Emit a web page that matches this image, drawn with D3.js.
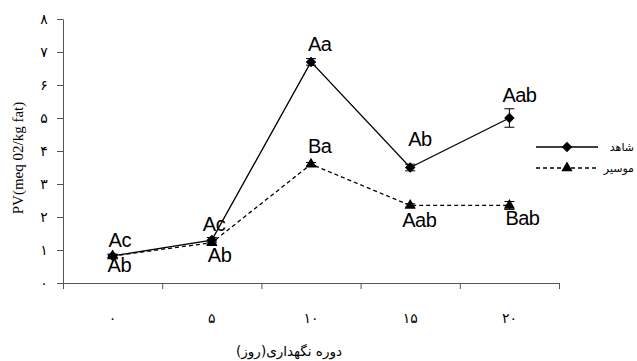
<!DOCTYPE html>
<html>
<head>
<meta charset="utf-8">
<script src="https://cdn.jsdelivr.net/npm/d3@7"></script>
<style>
  body { margin: 0; background: #fff; }
  svg { display: block; }
</style>
</head>
<body>
<div id="chart"></div>
<script>
"use strict";
// storage period (days)
const days = ["0", "5", "10", "15", "20"];
const dayLabels = ["۰", "۵", "۱۰", "۱۵", "۲۰"];
const yTickLabels = ["۰", "۱", "۲", "۳", "۴", "۵", "۶", "۷", "۸"];

// control (شاهد)
const controlValues = [0.82, 1.3, 6.7, 3.5, 5.0];
const controlErrors = [0.05, 0.08, 0.1, 0.1, 0.28];
const controlLetters = ["Ac", "Ac", "Aa", "Ab", "Aab"];

// shallot (موسیر)
const shallotValues = [0.82, 1.22, 3.6, 2.35, 2.35];
const shallotErrors = [0.05, 0.05, 0.05, 0.05, 0.12];
const shallotLetters = ["Ab", "Ab", "Ba", "Aab", "Bab"];

const seriesNames = ["شاهد", "موسیر"];

let width = 637, height = 361;
let margin = { top: 19, right: 78, bottom: 78, left: 63 };

let svg = d3.select("#chart").append("svg")
    .attr("width", width)
    .attr("height", height);

let x = d3.scaleBand()
    .domain(days)
    .range([margin.left, 559])
    .padding(0);

let y = d3.scaleLinear()
    .domain([0, 8])
    .range([283, margin.top]);

let cx = d => x(d) + x.bandwidth() / 2;

// Y axis
let yAxis = svg.append("g")
    .attr("transform", "translate(" + margin.left + ",0)")
    .call(d3.axisLeft(y).ticks(8).tickSizeOuter(0)
        .tickFormat((d, i) => yTickLabels[i]));
yAxis.selectAll("text")
    .attr("x", -19)
    .style("text-anchor", "middle")
    .style("font-family", "DejaVu Sans")
    .style("font-size", "14px");

// X axis: ticks on category boundaries
let xEdges = d3.scaleLinear().domain([0, days.length]).range(x.range());
svg.append("g")
    .attr("transform", "translate(0,283)")
    .call(d3.axisBottom(xEdges).ticks(days.length).tickFormat("").tickSizeOuter(0));

let xLabels = svg.append("g")
    .attr("transform", "translate(0,283)")
    .call(d3.axisBottom(x).tickSize(0).tickPadding(30)
        .tickFormat((d, i) => dayLabels[i]));
xLabels.select(".domain").remove();
xLabels.selectAll("text")
    .style("font-family", "DejaVu Sans")
    .style("font-size", "14px");

svg.selectAll(".domain, .tick line").attr("stroke", "#555");
svg.selectAll(".tick text").attr("fill", "#000");

// Axis titles
svg.append("text")
    .attr("transform", "translate(23,158) rotate(-90)")
    .style("text-anchor", "middle")
    .style("font-family", "Liberation Serif")
    .style("font-size", "15px")
    .text("PV(meq 02/kg fat)");

svg.append("text")
    .attr("x", 289)
    .attr("y", 356)
    .style("text-anchor", "middle")
    .style("font-family", "DejaVu Sans")
    .style("font-size", "13.5px")
    .text("دوره نگهداری(روز)");

let line = d3.line()
    .x(d => cx(d.day))
    .y(d => y(d.value));

let series = [
    { name: seriesNames[0], values: controlValues, errors: controlErrors, letters: controlLetters,
      dash: null, marker: d3.symbolDiamond2, size: 70 },
    { name: seriesNames[1], values: shallotValues, errors: shallotErrors, letters: shallotLetters,
      dash: "4,3", marker: d3.symbolTriangle, size: 55 }
];

// label offsets (dx from point, baseline dy from point)
let labelOffsets = [
    [[-4, -9], [-9, -9], [-3, -11], [-2, -22], [-7, -16]],
    [[-5, 16], [-4, 19], [-3, -11], [-8, 22], [-4, 20]]
];

series.forEach((s, si) => {
    let pts = days.map((d, i) => ({ day: d, value: s.values[i], err: s.errors[i], letter: s.letters[i] }));

    svg.append("path")
        .datum(pts)
        .attr("fill", "none")
        .attr("stroke", "#000")
        .attr("stroke-width", 1.3)
        .attr("stroke-dasharray", s.dash)
        .attr("d", line);

    // error bars
    let eb = svg.append("g").selectAll("g").data(pts).enter().append("g");
    eb.append("line")
        .attr("x1", d => cx(d.day)).attr("x2", d => cx(d.day))
        .attr("y1", d => y(d.value - d.err)).attr("y2", d => y(d.value + d.err))
        .attr("stroke", "#000");
    [1, -1].forEach(sign => {
        eb.append("line")
            .attr("x1", d => cx(d.day) - 5).attr("x2", d => cx(d.day) + 5)
            .attr("y1", d => y(d.value + sign * d.err)).attr("y2", d => y(d.value + sign * d.err))
            .attr("stroke", "#000");
    });

    svg.append("g").selectAll("path").data(pts).enter().append("path")
        .attr("transform", d => "translate(" + cx(d.day) + "," + y(d.value) + ")")
        .attr("d", d3.symbol().type(s.marker).size(s.size))
        .attr("fill", "#000");

    svg.append("g").selectAll("text").data(pts).enter().append("text")
        .attr("x", (d, i) => cx(d.day) + labelOffsets[si][i][0])
        .attr("y", (d, i) => y(d.value) + labelOffsets[si][i][1])
        .style("font-family", "Liberation Sans")
        .style("font-size", "20px")
        .style("letter-spacing", "-0.5px")
        .text(d => d.letter);
});

// Legend
let legend = svg.append("g");
series.forEach((s, i) => {
    let ly = 147 + i * 21;
    legend.append("line")
        .attr("x1", 536).attr("x2", 598)
        .attr("y1", ly).attr("y2", ly)
        .attr("stroke", "#000")
        .attr("stroke-width", 1.3)
        .attr("stroke-dasharray", s.dash);
    legend.append("path")
        .attr("transform", "translate(567," + ly + ")")
        .attr("d", d3.symbol().type(s.marker).size(s.size))
        .attr("fill", "#000");
    legend.append("text")
        .attr("x", 634)
        .attr("y", ly + 4)
        .style("text-anchor", "end")
        .style("font-family", "DejaVu Sans")
        .style("font-size", "11px")
        .text(s.name);
});
</script>
</body>
</html>
